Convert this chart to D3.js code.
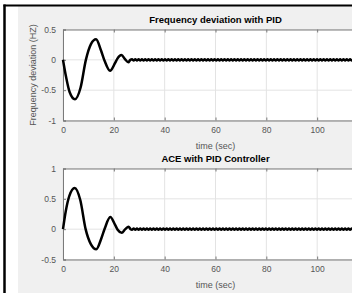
<!DOCTYPE html>
<html>
<head>
<meta charset="utf-8">
<script src="https://cdn.jsdelivr.net/npm/d3@7"></script>
<style>
  body { margin: 0; background: #fff; }
  svg { display: block; font-family: "Liberation Sans", Arial, sans-serif; }
</style>
</head>
<body>
<div id="chart"></div>
<script>
// frequency deviation (top plot), transient part
const freqTimes = [0, 1.2, 2.6, 4.7, 6.9, 9.0, 11.0, 13.0, 15.0, 16.4, 18.5, 20.4, 21.4, 23.0, 24.4, 25.7, 26.5];
const freqValues = [0, -0.28, -0.53, -0.65, -0.46, 0, 0.26, 0.34, 0.15, -0.02, -0.18, -0.06, 0.02, 0.08, 0.01, -0.04, 0];

// ACE (bottom plot)
const aceTimes = [0, 1.1, 2.5, 4.6, 6.8, 8.9, 11.0, 13.1, 15.1, 16.5, 18.6, 20.5, 21.5, 23.1, 24.5, 25.8, 26.6];
const aceValues = [0, 0.3, 0.55, 0.68, 0.48, 0, -0.25, -0.33, -0.15, 0.02, 0.2, 0.07, -0.01, -0.06, 0, 0.04, 0];

// small steady ripple after ~27 s, sampled every 0.65 s
const rippleStart = 27.15;
const rippleStep = 0.65;
const freqRipple = [
  0.009, -0.009, 0.009, -0.009, 0.009, -0.009, 0.009, -0.009, 0.009, -0.009, 0.009, -0.009,
  0.009, -0.009, 0.009, -0.009, 0.009, -0.009, 0.009, -0.009, 0.009, -0.009, 0.009, -0.009,
  0.009, -0.009, 0.009, -0.009, 0.009, -0.009, 0.009, -0.009, 0.009, -0.009, 0.009, -0.009,
  0.009, -0.009, 0.009, -0.009, 0.009, -0.009, 0.009, -0.009, 0.009, -0.009, 0.009, -0.009,
  0.009, -0.009, 0.009, -0.009, 0.009, -0.009, 0.009, -0.009, 0.009, -0.009, 0.009, -0.009,
  0.009, -0.009, 0.009, -0.009, 0.009, -0.009, 0.009, -0.009, 0.009, -0.009, 0.009, -0.009,
  0.009, -0.009, 0.009, -0.009, 0.009, -0.009, 0.009, -0.009, 0.009, -0.009, 0.009, -0.009,
  0.009, -0.009, 0.009, -0.009, 0.009, -0.009, 0.009, -0.009, 0.009, -0.009, 0.009, -0.009,
  0.009, -0.009, 0.009, -0.009, 0.009, -0.009, 0.009, -0.009, 0.009, -0.009, 0.009, -0.009,
  0.009, -0.009, 0.009, -0.009, 0.009, -0.009, 0.009, -0.009, 0.009, -0.009, 0.009, -0.009,
  0.009, -0.009, 0.009, -0.009, 0.009, -0.009, 0.009, -0.009, 0.009, -0.009, 0.009, -0.009,
  0.009, -0.009, 0.009, -0.009, 0.009, -0.009, 0.009, -0.009, 0.009, -0.009, 0.009, -0.009
];
const aceRipple = [
  -0.009, 0.009, -0.009, 0.009, -0.009, 0.009, -0.009, 0.009, -0.009, 0.009, -0.009, 0.009,
  -0.009, 0.009, -0.009, 0.009, -0.009, 0.009, -0.009, 0.009, -0.009, 0.009, -0.009, 0.009,
  -0.009, 0.009, -0.009, 0.009, -0.009, 0.009, -0.009, 0.009, -0.009, 0.009, -0.009, 0.009,
  -0.009, 0.009, -0.009, 0.009, -0.009, 0.009, -0.009, 0.009, -0.009, 0.009, -0.009, 0.009,
  -0.009, 0.009, -0.009, 0.009, -0.009, 0.009, -0.009, 0.009, -0.009, 0.009, -0.009, 0.009,
  -0.009, 0.009, -0.009, 0.009, -0.009, 0.009, -0.009, 0.009, -0.009, 0.009, -0.009, 0.009,
  -0.009, 0.009, -0.009, 0.009, -0.009, 0.009, -0.009, 0.009, -0.009, 0.009, -0.009, 0.009,
  -0.009, 0.009, -0.009, 0.009, -0.009, 0.009, -0.009, 0.009, -0.009, 0.009, -0.009, 0.009,
  -0.009, 0.009, -0.009, 0.009, -0.009, 0.009, -0.009, 0.009, -0.009, 0.009, -0.009, 0.009,
  -0.009, 0.009, -0.009, 0.009, -0.009, 0.009, -0.009, 0.009, -0.009, 0.009, -0.009, 0.009,
  -0.009, 0.009, -0.009, 0.009, -0.009, 0.009, -0.009, 0.009, -0.009, 0.009, -0.009, 0.009,
  -0.009, 0.009, -0.009, 0.009, -0.009, 0.009, -0.009, 0.009, -0.009, 0.009, -0.009, 0.009
];

const xTicks = [0, 20, 40, 60, 80, 100, 120];
const xLabelTicks = [0, 20, 40, 60, 80, 100];   // 120 falls outside the cropped picture
const freqTicks = [-1, -0.5, 0, 0.5];
const aceTicks = [-0.5, 0, 0.5, 1];

const width = 352;
const height = 293;

const svg = d3.select("#chart")
  .append("svg")
  .attr("width", width)
  .attr("height", height);

// figure frame: white margin, black edge, grey figure background
svg.append("rect").attr("x", 0).attr("y", 0).attr("width", width).attr("height", height).attr("fill", "#fff");
svg.append("rect").attr("x", 18).attr("y", 6).attr("width", width - 18).attr("height", height - 6).attr("fill", "#f0f0f0");
svg.append("line").attr("x1", 3.5).attr("x2", width).attr("y1", 5.5).attr("y2", 5.5)
  .attr("stroke", "#000").attr("stroke-width", 2);
svg.append("line").attr("x1", 4.5).attr("x2", 4.5).attr("y1", 4.5).attr("y2", height)
  .attr("stroke", "#000").attr("stroke-width", 2.5);

const x = d3.scaleLinear().domain([0, 120]).range([63, 368]);

function toPoints(times, values, ripple) {
  const pts = times.map((t, i) => [t, values[i]]);
  ripple.forEach((v, i) => pts.push([rippleStart + i * rippleStep, v]));
  return pts.filter(p => p[0] <= 120);
}

function drawPanel(opts) {
  const y = d3.scaleLinear().domain(opts.domain).range([opts.bottom, opts.top]);
  const g = svg.append("g");

  g.append("rect")
    .attr("x", x(0)).attr("y", opts.top)
    .attr("width", x(120) - x(0)).attr("height", opts.bottom - opts.top)
    .attr("fill", "#fff");

  // grid
  g.append("g").selectAll("line").data(xTicks).join("line")
    .attr("x1", d => x(d)).attr("x2", d => x(d))
    .attr("y1", opts.top).attr("y2", opts.bottom)
    .attr("stroke", "#e3e3e3").attr("stroke-width", 1);
  g.append("g").selectAll("line").data(opts.ticks).join("line")
    .attr("x1", x(0)).attr("x2", x(120))
    .attr("y1", d => y(d)).attr("y2", d => y(d))
    .attr("stroke", "#e3e3e3").attr("stroke-width", 1);

  // axes, ticks pointing inward
  const xAxis = g.append("g")
    .attr("transform", `translate(0,${opts.bottom})`)
    .call(d3.axisBottom(x).tickValues(xLabelTicks).tickSize(-3).tickPadding(6).tickFormat(d => d));
  const xTop = g.append("g")
    .attr("transform", `translate(0,${opts.top})`)
    .call(d3.axisTop(x).tickValues(xLabelTicks).tickSize(-3).tickFormat(""));
  const yAxis = g.append("g")
    .attr("transform", `translate(${x(0)},0)`)
    .call(d3.axisLeft(y).tickValues(opts.ticks).tickSize(-3).tickPadding(7).tickFormat(d => String(d)));

  [xAxis, xTop, yAxis].forEach(a => {
    a.select(".domain").attr("stroke", "#7a7a7a");
    a.selectAll(".tick line").attr("stroke", "#7a7a7a");
    a.selectAll("text").attr("fill", "#555").style("font-size", "8.5px")
      .style("font-family", "'Liberation Sans', Arial, sans-serif");
  });

  const line = d3.line()
    .x(d => x(d[0]))
    .y(d => y(d[1]))
    .curve(d3.curveMonotoneX);

  g.append("path")
    .datum(opts.points)
    .attr("d", line)
    .attr("fill", "none")
    .attr("stroke", "#000")
    .attr("stroke-width", 2.5)
    .attr("stroke-linejoin", "round");

  // title
  g.append("text")
    .attr("x", (x(0) + x(120)) / 2)
    .attr("y", opts.top - 7)
    .attr("text-anchor", "middle")
    .style("font-size", "9.5px")
    .style("font-weight", "bold")
    .attr("fill", "#000")
    .text(opts.title);

  // x label
  g.append("text")
    .attr("x", (x(0) + x(120)) / 2)
    .attr("y", opts.bottom + 28)
    .attr("text-anchor", "middle")
    .style("font-size", "9px")
    .attr("fill", "#555")
    .text("time (sec)");

  if (opts.ylabel) {
    g.append("text")
      .attr("transform", `translate(36,${(opts.top + opts.bottom) / 2}) rotate(-90)`)
      .attr("text-anchor", "middle")
      .style("font-size", "9px")
      .attr("fill", "#555")
      .text(opts.ylabel);
  }
}

drawPanel({
  top: 29.5, bottom: 120.5, domain: [-1, 0.5], ticks: freqTicks,
  title: "Frequency deviation with PID", ylabel: "Frequency deviation (HZ)",
  points: toPoints(freqTimes, freqValues, freqRipple)
});

drawPanel({
  top: 168.5, bottom: 259.5, domain: [-0.5, 1], ticks: aceTicks,
  title: "ACE with PID Controller", ylabel: null,
  points: toPoints(aceTimes, aceValues, aceRipple)
});
</script>
</body>
</html>
